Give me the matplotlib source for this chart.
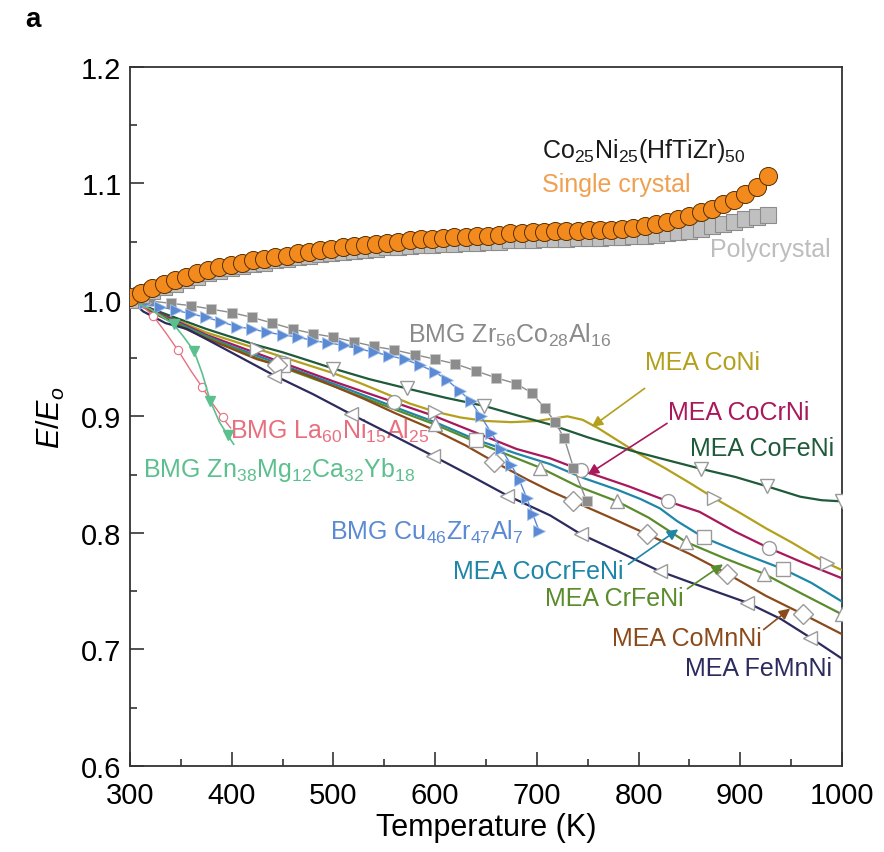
import matplotlib
matplotlib.use("Agg")
import matplotlib.pyplot as plt
from matplotlib.ticker import MultipleLocator, FormatStrFormatter

plt.rcParams['font.family'] = ['Liberation Sans', 'DejaVu Sans']
plt.rcParams['mathtext.fontset'] = 'custom'
plt.rcParams['mathtext.rm'] = 'Liberation Sans'
plt.rcParams['mathtext.it'] = 'Liberation Sans:italic'
plt.rcParams['mathtext.default'] = 'regular'

# Co25Ni25(HfTiZr)50 single crystal and polycrystal
t_hea = [300, 311, 322, 333, 344, 355, 366, 377, 388, 399, 410, 421, 432, 443, 454, 465,
         476, 487, 498, 509, 520, 531, 542, 553, 564, 575, 586, 597, 608, 619, 630, 641,
         652, 663, 674, 685, 696, 707, 718, 729, 740, 751, 762, 773, 784, 795, 806, 817,
         828, 839, 850, 861, 872, 883, 894, 905, 916, 927]
e_single = [1.002, 1.006, 1.010, 1.014, 1.017, 1.020, 1.023, 1.026, 1.028, 1.030, 1.032,
            1.034, 1.035, 1.037, 1.038, 1.040, 1.041, 1.043, 1.044, 1.045, 1.046, 1.047,
            1.048, 1.049, 1.050, 1.051, 1.052, 1.052, 1.053, 1.054, 1.054, 1.055, 1.055,
            1.056, 1.057, 1.057, 1.058, 1.058, 1.059, 1.059, 1.059, 1.060, 1.060, 1.060,
            1.061, 1.062, 1.063, 1.065, 1.067, 1.069, 1.072, 1.075, 1.078, 1.082, 1.086,
            1.091, 1.097, 1.106]
e_poly = [1.000, 1.004, 1.008, 1.011, 1.014, 1.017, 1.020, 1.023, 1.025, 1.027, 1.029,
          1.031, 1.032, 1.034, 1.035, 1.037, 1.038, 1.039, 1.040, 1.041, 1.042, 1.043,
          1.044, 1.045, 1.045, 1.046, 1.047, 1.047, 1.048, 1.048, 1.049, 1.049, 1.050,
          1.050, 1.051, 1.051, 1.051, 1.052, 1.052, 1.052, 1.053, 1.053, 1.053, 1.054,
          1.054, 1.055, 1.055, 1.056, 1.057, 1.058, 1.059, 1.061, 1.063, 1.065, 1.067,
          1.069, 1.071, 1.073]

# bulk metallic glasses
t_zr = [300, 320, 340, 360, 380, 400, 420, 440, 460, 480, 500, 520, 540, 560, 580, 600,
        620, 640, 660, 680, 695, 708, 718, 727, 736, 749]
e_zr = [1.0, 0.999, 0.997, 0.995, 0.992, 0.989, 0.985, 0.980, 0.975, 0.971, 0.968, 0.964,
        0.960, 0.957, 0.953, 0.949, 0.945, 0.939, 0.933, 0.928, 0.920, 0.907, 0.895, 0.881,
        0.856, 0.827]
t_cu = [300, 315, 330, 345, 360, 375, 390, 405, 420, 435, 450, 465, 480, 495, 510, 525,
        540, 555, 570, 585, 600, 612, 624, 635, 645, 655, 665, 675, 683, 690, 696, 702]
e_cu = [1.0, 0.997, 0.994, 0.991, 0.988, 0.985, 0.981, 0.977, 0.975, 0.972, 0.970, 0.968,
        0.965, 0.963, 0.961, 0.958, 0.955, 0.952, 0.949, 0.944, 0.938, 0.931, 0.922, 0.913,
        0.900, 0.886, 0.872, 0.858, 0.845, 0.830, 0.816, 0.802]
t_la = [300, 312, 323, 335, 347, 360, 371, 382, 391, 399]
e_la = [1.0, 0.995, 0.986, 0.972, 0.957, 0.939, 0.925, 0.910, 0.899, 0.890]
t_zn = [300, 320, 343, 353, 363, 371, 379, 388, 396, 402]
e_zn = [1.0, 0.992, 0.979, 0.968, 0.956, 0.937, 0.913, 0.895, 0.884, 0.876]

# medium entropy alloys
t_coni = [300, 325, 350, 375, 400, 425, 450, 475, 500, 525, 550, 575, 600, 625, 650, 675,
          700, 715, 730, 745, 760, 780, 800, 825, 850, 874, 900, 925, 950, 985, 1000]
e_coni = [1.0, 0.990, 0.981, 0.972, 0.965, 0.958, 0.951, 0.944, 0.937, 0.929, 0.920, 0.911,
          0.904, 0.899, 0.896, 0.895, 0.896, 0.898, 0.900, 0.897, 0.890, 0.879, 0.868, 0.856,
          0.843, 0.830, 0.817, 0.804, 0.792, 0.774, 0.768]
t_cofeni = [300, 325, 350, 375, 400, 425, 450, 468, 500, 535, 572, 610, 648, 680, 713, 750,
            795, 830, 861, 895, 926, 959, 980, 1000]
e_cofeni = [1.0, 0.991, 0.983, 0.975, 0.968, 0.961, 0.955, 0.950, 0.941, 0.932, 0.924, 0.916,
            0.909, 0.901, 0.893, 0.882, 0.870, 0.862, 0.855, 0.848, 0.840, 0.831, 0.828, 0.827]
t_cocrni = [300, 325, 350, 375, 400, 425, 450, 475, 500, 530, 560, 600, 640, 680, 713, 743,
            790, 829, 860, 895, 928, 960, 1000]
e_cocrni = [1.0, 0.990, 0.980, 0.970, 0.962, 0.954, 0.946, 0.938, 0.930, 0.921, 0.912, 0.900,
            0.886, 0.872, 0.864, 0.854, 0.840, 0.827, 0.818, 0.801, 0.787, 0.775, 0.761]
t_cocrfeni = [300, 325, 350, 375, 400, 425, 450, 475, 500, 530, 560, 600, 640, 680, 713, 746,
              779, 802, 821, 838, 864, 900, 942, 970, 1000]
e_cocrfeni = [1.0, 0.989, 0.979, 0.969, 0.960, 0.952, 0.944, 0.936, 0.928, 0.918, 0.908, 0.895,
              0.880, 0.868, 0.859, 0.847, 0.837, 0.829, 0.821, 0.810, 0.796, 0.783, 0.769, 0.757,
              0.741]
t_crfeni = [300, 325, 350, 375, 400, 425, 450, 475, 500, 530, 560, 600, 640, 680, 703, 740,
            779, 810, 847, 885, 923, 960, 1000]
e_crfeni = [1.0, 0.989, 0.978, 0.968, 0.959, 0.950, 0.942, 0.934, 0.926, 0.916, 0.906, 0.893,
            0.878, 0.864, 0.856, 0.840, 0.827, 0.813, 0.792, 0.778, 0.765, 0.748, 0.730]
t_comnni = [300, 325, 350, 375, 400, 425, 445, 475, 500, 530, 560, 600, 630, 658, 690, 713,
            736, 770, 808, 850, 887, 925, 962, 1000]
e_comnni = [1.0, 0.988, 0.977, 0.967, 0.958, 0.949, 0.944, 0.935, 0.926, 0.915, 0.903, 0.888,
            0.875, 0.861, 0.846, 0.836, 0.827, 0.814, 0.799, 0.782, 0.765, 0.746, 0.730, 0.713]
t_femnni = [300, 313, 335, 356, 380, 410, 442, 480, 517, 560, 598, 635, 671, 713, 743, 780,
            821, 865, 907, 940, 969, 1000]
e_femnni = [1.0, 0.990, 0.980, 0.975, 0.964, 0.950, 0.935, 0.919, 0.902, 0.883, 0.866, 0.849,
            0.832, 0.815, 0.799, 0.784, 0.767, 0.753, 0.740, 0.726, 0.710, 0.692]

fig = plt.figure(figsize=(8.84, 8.53), dpi=100)
ax = fig.add_axes([0.147, 0.101, 0.8055, 0.8195])

# MEA curves: solid line, open markers on a few points
mea = [
    (t_coni, e_coni, '#b3a01c', '>', [5, 12, 25, 29]),
    (t_cofeni, e_cofeni, '#1f5a3a', 'v', [8, 10, 12, 18, 20, 23]),
    (t_cocrni, e_cocrni, '#a8185a', 'o', [6, 10, 15, 17, 20]),
    (t_cocrfeni, e_cocrfeni, '#1f86a8', 's', [6, 12, 20, 22]),
    (t_crfeni, e_crfeni, '#5a8c2c', '^', [11, 14, 16, 18, 20, 22]),
    (t_comnni, e_comnni, '#8b4a1a', 'D', [6, 13, 16, 18, 20, 22]),
    (t_femnni, e_femnni, '#2b2b5e', '<', [6, 8, 10, 12, 14, 16, 18, 20]),
]
for t, e, c, m, idx in mea:
    ax.plot(t, e, '-', color=c, lw=1.6, zorder=3)
    ax.plot([t[i] for i in idx], [e[i] for i in idx], m, ls='none', ms=10,
            mfc='white', mec='#9a9a9a', mew=1.0, zorder=4)

# BMGs
ax.plot(t_zr, e_zr, '-', color='#8c8c8c', lw=1.0, marker='s', ms=7,
        mfc='#8c8c8c', mec='#c8c8c8', mew=0.6, zorder=5)
ax.plot(t_cu, e_cu, '-', color='#5a8ad4', lw=1.0, marker='>', ms=8,
        mfc='#5a8ad4', mec='#a8c4ec', mew=0.6, zorder=5)
ax.plot(t_la, e_la, '-', color='#e8707e', lw=1.0, marker='o', ms=6,
        mfc='white', mec='#e8707e', mew=0.8, markevery=2, zorder=5)
ax.plot(t_zn, e_zn, '-', color='#5cc08e', lw=1.2, marker='v', ms=7,
        mfc='#5cc08e', mec='#5cc08e', markevery=2, zorder=5)

# HEA
ax.plot(t_hea, e_poly, 's', ms=12, mfc='#c0c0c0', mec='#8c8c8c', mew=0.8, zorder=6)
ax.plot(t_hea, e_single, 'o', ms=13, mfc='#f28a1e', mec='#5a3000', mew=0.7, zorder=7)

# labels
fs = 18
ax.text(705, 1.129, 'Co$_{25}$Ni$_{25}$(HfTiZr)$_{50}$', color='#1a1a1a', fontsize=fs, va='center')
ax.text(705, 1.099, 'Single crystal', color='#f0a050', fontsize=fs, va='center')
ax.text(870, 1.044, 'Polycrystal', color='#bdbdbd', fontsize=fs, va='center')
ax.text(573, 0.970, 'BMG Zr$_{56}$Co$_{28}$Al$_{16}$', color='#8a8a8a', fontsize=fs, va='center', zorder=2)
ax.text(398, 0.888, 'BMG La$_{60}$Ni$_{15}$Al$_{25}$', color='#e8707e', fontsize=fs, va='center', zorder=2)
ax.text(313, 0.855, 'BMG Zn$_{38}$Mg$_{12}$Ca$_{32}$Yb$_{18}$', color='#5cc08e', fontsize=fs, va='center', zorder=2)
ax.text(497, 0.801, 'BMG Cu$_{46}$Zr$_{47}$Al$_{7}$', color='#5a8ad4', fontsize=fs, va='center', zorder=2)
ax.text(806, 0.947, 'MEA CoNi', color='#b3a01c', fontsize=fs, va='center')
ax.text(829, 0.904, 'MEA CoCrNi', color='#a8185a', fontsize=fs, va='center')
ax.text(851, 0.873, 'MEA CoFeNi', color='#1f5a3a', fontsize=fs, va='center')
ax.text(618, 0.767, 'MEA CoCrFeNi', color='#1f86a8', fontsize=fs, va='center')
ax.text(708, 0.744, 'MEA CrFeNi', color='#5a8c2c', fontsize=fs, va='center')
ax.text(774, 0.710, 'MEA CoMnNi', color='#8b4a1a', fontsize=fs, va='center')
ax.text(846, 0.684, 'MEA FeMnNi', color='#2b2b5e', fontsize=fs, va='center')

arrows = [
    ((754, 0.891), (806, 0.924), '#b3a01c'),
    ((750, 0.850), (828, 0.894), '#a8185a'),
    ((839, 0.803), (790, 0.773), '#1f86a8'),
    ((883, 0.773), (848, 0.752), '#5a8c2c'),
    ((949, 0.735), (923, 0.717), '#8b4a1a'),
]
for head, tail, c in arrows:
    ax.annotate('', xy=head, xytext=tail,
                arrowprops=dict(arrowstyle='-|>', color=c, lw=1.2,
                                mutation_scale=16, shrinkA=0, shrinkB=0), zorder=8)

ax.set_xlim(300, 1000)
ax.set_ylim(0.6, 1.2)
ax.xaxis.set_major_locator(MultipleLocator(100))
ax.xaxis.set_minor_locator(MultipleLocator(50))
ax.yaxis.set_major_locator(MultipleLocator(0.1))
ax.yaxis.set_minor_locator(MultipleLocator(0.05))
ax.yaxis.set_major_formatter(FormatStrFormatter('%.1f'))
ax.tick_params(which='both', direction='in', top=False, right=False, width=1.2,
               color='#333333', labelsize=21)
ax.tick_params(axis='x', pad=11)
ax.tick_params(axis='y', pad=6)
ax.tick_params(which='major', length=10)
ax.tick_params(which='minor', length=5)
for s in ax.spines.values():
    s.set_color('#333333')
    s.set_linewidth(1.3)

ax.set_xlabel('Temperature (K)', fontsize=22, labelpad=2)
ax.set_ylabel('$\\mathit{E/E_o}$', fontsize=22, labelpad=10)
fig.text(0.028, 0.977, 'a', fontsize=20, fontweight='bold', va='center', ha='left')

plt.savefig('out.png', dpi=100)
